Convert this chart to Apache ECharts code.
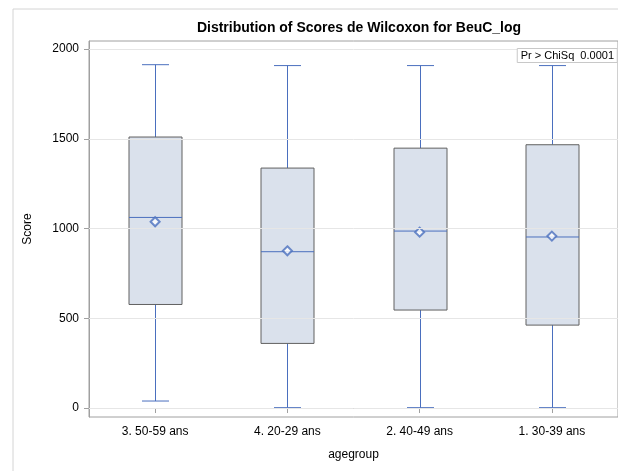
<!DOCTYPE html>
<html>
<head>
<meta charset="utf-8">
<script src="https://cdn.jsdelivr.net/npm/echarts@6/dist/echarts.min.js"></script>
<style>html,body{margin:0;padding:0;background:#fff}#c{width:618px;height:471px}</style>
</head>
<body>
<div id="c"></div>
<script>
const categories = ['3. 50-59 ans', '4. 20-29 ans', '2. 40-49 ans', '1. 30-39 ans'];
const whiskerLow = [39, 2, 2, 2];
const q1 = [577, 360, 546, 462];
const median = [1062, 871, 986, 953];
const q3 = [1510, 1337, 1448, 1467];
const whiskerHigh = [1913, 1908, 1908, 1908];
const means = [1038, 876, 980, 958];
const yTicks = [0, 500, 1000, 1500, 2000];

const FONT = 'Liberation Sans, Arial, sans-serif';
const BLUE = '#4a6fbe';
const boxData = categories.map((c, i) => [i, whiskerLow[i], q1[i], median[i], q3[i], whiskerHigh[i]]);
const meanData = categories.map((c, i) => [i, means[i]]);

const chart = echarts.init(document.getElementById('c'), null, {renderer: 'canvas'});
chart.setOption({
  animation: false,
  backgroundColor: '#fff',
  textStyle: {fontFamily: FONT},
  title: [{
    text: 'Distribution of Scores de Wilcoxon for BeuC_log',
    left: 354, top: 16, textAlign: 'center',
    textStyle: {fontSize: 14, fontWeight: 'bold', color: '#000', fontFamily: FONT}
  }, {
    text: 'Pr > ChiSq  0.0001',
    right: 1, top: 48,
    padding: [2, 3, 2, 4],
    borderColor: '#c8c8c8', borderWidth: 1, backgroundColor: '#fff',
    textStyle: {fontSize: 11, fontWeight: 'normal', color: '#000', fontFamily: FONT}
  }],
  graphic: [{
    type: 'rect', left: 10.5, top: 6.5, silent: true,
    shape: {width: 700, height: 500},
    style: {fill: 'none', stroke: '#d4d4d4', lineWidth: 1}
  }],
  grid: {left: 89, top: 41, width: 532, height: 376, show: true, borderColor: '#a0a0a0', borderWidth: 1},
  xAxis: {
    type: 'category', data: categories,
    name: 'agegroup', nameLocation: 'middle', nameGap: 32,
    nameTextStyle: {fontSize: 12, color: '#000', fontFamily: FONT},
    axisLine: {show: true, lineStyle: {color: '#a0a0a0'}},
    axisTick: {show: true, alignWithLabel: true, length: 5, lineStyle: {color: '#a0a0a0'}},
    axisLabel: {fontSize: 12, color: '#000', margin: 9, fontFamily: FONT},
    splitLine: {show: false}
  },
  yAxis: {
    type: 'value', min: -50, max: 2045,
    name: 'Score', nameLocation: 'middle', nameGap: 55,
    nameTextStyle: {fontSize: 12, color: '#000', fontFamily: FONT},
    axisLine: {show: true, lineStyle: {color: '#a0a0a0'}},
    axisTick: {show: true, length: 5, lineStyle: {color: '#a0a0a0'}, customValues: yTicks},
    axisLabel: {fontSize: 12, color: '#000', margin: 10, fontFamily: FONT, customValues: yTicks,
      formatter: function (v) { return String(Math.round(v)); }},
    splitLine: {show: false}
  },
  series: [{
    type: 'line', data: [], silent: true,
    markLine: {
      symbol: 'none', silent: true, label: {show: false},
      lineStyle: {color: '#e6e6e6', width: 1, type: 'solid'},
      emphasis: {disabled: true},
      data: yTicks.map(v => ({yAxis: v}))
    },
    z: 1
  }, {
    type: 'custom',
    data: boxData,
    encode: {x: 0, y: [1, 2, 3, 4, 5]},
    z: 3,
    silent: true,
    renderItem: function (params, api) {
      const x = api.value(0);
      const bw = Math.round(api.size([1, 0])[0] * 0.4);
      const cw = Math.round(bw / 2);
      const pLow = api.coord([x, api.value(1)]);
      const pQ1 = api.coord([x, api.value(2)]);
      const pMed = api.coord([x, api.value(3)]);
      const pQ3 = api.coord([x, api.value(4)]);
      const pHigh = api.coord([x, api.value(5)]);
      const cx = Math.round(pLow[0]) + 0.5;
      const ls = {stroke: BLUE, lineWidth: 1, fill: null};
      return {
        type: 'group',
        children: [
          {type: 'line', shape: {x1: cx, y1: pHigh[1], x2: cx, y2: pQ3[1]}, style: ls},
          {type: 'line', shape: {x1: cx, y1: pQ1[1], x2: cx, y2: pLow[1]}, style: ls},
          {type: 'line', shape: {x1: cx - cw / 2, y1: pHigh[1], x2: cx + cw / 2, y2: pHigh[1]}, style: ls},
          {type: 'line', shape: {x1: cx - cw / 2, y1: pLow[1], x2: cx + cw / 2, y2: pLow[1]}, style: ls},
          {type: 'rect', shape: {x: cx - bw / 2, y: pQ3[1], width: bw, height: pQ1[1] - pQ3[1]},
           style: {fill: '#dae1ec', stroke: '#606060', lineWidth: 1}},
          {type: 'line', shape: {x1: cx - bw / 2, y1: pMed[1], x2: cx + bw / 2, y2: pMed[1]}, style: ls}
        ]
      };
    }
  }, {
    type: 'scatter',
    data: meanData,
    symbol: 'emptyDiamond', symbolSize: 9,
    silent: true,
    itemStyle: {color: BLUE, borderColor: BLUE, borderWidth: 1.2},
    z: 4
  }]
});
</script>
</body>
</html>
